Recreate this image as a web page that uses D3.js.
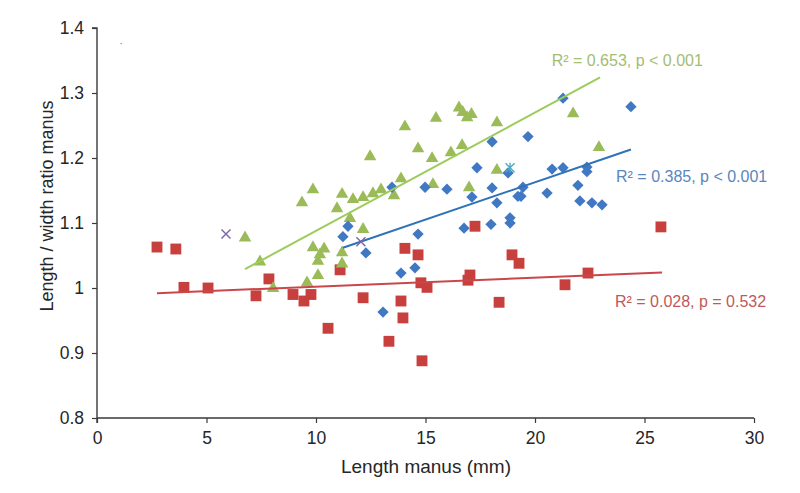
<!DOCTYPE html>
<html><head><meta charset="utf-8">
<script src="https://cdn.jsdelivr.net/npm/d3@7"></script>
<style>
html,body{margin:0;padding:0;background:#fff;}
svg{display:block;font-family:"Liberation Sans",Arial,sans-serif;}
</style></head>
<body>
<svg id="chart" width="800" height="493"></svg>
<script>
// ---- data ----
const xTicks = [0, 5, 10, 15, 20, 25, 30];
const yTicks = [0.8, 0.9, 1.0, 1.1, 1.2, 1.3, 1.4];
const yTickLabels = ["0.8", "0.9", "1", "1.1", "1.2", "1.3", "1.4"];

const redX = [2.74, 3.6, 3.97, 5.07, 7.26, 7.85, 8.95, 9.45, 9.77, 10.55, 11.1, 12.15, 13.33, 13.88, 13.97, 14.06, 14.66, 14.79, 14.84, 15.07, 16.94, 17.03, 17.26, 18.36, 18.95, 19.27, 21.37, 22.42, 25.75];
const redY = [1.063, 1.060, 1.001, 1.000, 0.988, 1.014, 0.990, 0.980, 0.990, 0.938, 1.028, 0.985, 0.918, 0.980, 0.954, 1.061, 1.051, 1.008, 0.888, 1.001, 1.012, 1.020, 1.095, 0.978, 1.051, 1.038, 1.005, 1.023, 1.094];

const greenX = [6.76, 7.44, 8.04, 9.36, 9.86, 9.59, 9.86, 10.37, 10.18, 10.09, 10.09, 10.96, 11.19, 11.69, 12.15, 12.6, 12.97, 13.56, 13.88, 12.47, 14.06, 14.66, 15.3, 15.34, 15.48, 16.16, 16.67, 16.53, 16.7, 16.9, 17.1, 16.99, 18.26, 18.26, 11.55, 12.15, 11.19, 11.19, 21.74, 22.92];
const greenY = [1.078, 1.041, 1.000, 1.132, 1.152, 1.009, 1.063, 1.061, 1.052, 1.042, 1.020, 1.123, 1.145, 1.137, 1.140, 1.146, 1.152, 1.143, 1.169, 1.203, 1.249, 1.215, 1.200, 1.160, 1.262, 1.209, 1.220, 1.278, 1.271, 1.263, 1.268, 1.155, 1.255, 1.182, 1.108, 1.091, 1.055, 1.038, 1.269, 1.217];

const blueX = [13.47, 14.98, 15.98, 18.04, 17.35, 18.04, 17.12, 18.26, 18.86, 18.86, 17.99, 16.76, 11.46, 11.23, 12.28, 14.66, 14.52, 18.77, 19.22, 21.28, 24.38, 19.68, 20.78, 21.28, 22.37, 22.37, 21.96, 20.55, 19.45, 19.36, 22.05, 22.6, 23.06, 13.88, 13.06];
const blueY = [1.155, 1.155, 1.152, 1.225, 1.185, 1.154, 1.140, 1.131, 1.108, 1.100, 1.098, 1.092, 1.095, 1.079, 1.054, 1.083, 1.031, 1.177, 1.141, 1.292, 1.279, 1.233, 1.183, 1.185, 1.186, 1.179, 1.158, 1.146, 1.155, 1.141, 1.134, 1.131, 1.128, 1.023, 0.963];

const purpleX = [5.89, 12.05];
const purpleY = [1.083, 1.071];
const cyanX = [18.86];
const cyanY = [1.185];
const speckX = [1.1];
const speckY = [1.376];

// trend lines: [start, end]
const trendGreenX = [6.76, 22.97], trendGreenY = [1.029, 1.324];
const trendBlueX  = [11.23, 24.38], trendBlueY  = [1.062, 1.213];
const trendRedX   = [2.74, 25.8],  trendRedY   = [0.992, 1.024];

const labelGreen = "R² = 0.653, p < 0.001";
const labelBlue  = "R² = 0.385, p < 0.001";
const labelRed   = "R² = 0.028, p = 0.532";
const labelPosGreen = [20.76, 1.342];
const labelPosBlue  = [23.7, 1.1635];
const labelPosRed   = [23.65, 0.971];

// ---- styles ----
const C = {red:"#c8403e", green:"#9bbb59", blue:"#4178c4", purple:"#7866a8", cyan:"#4bacc6",
           redLine:"#c9474a", greenLine:"#9ccc5c", blueLine:"#2f72b8",
           redText:"#c0595a", greenText:"#a3bd72", blueText:"#5a86be", axis:"#3a3a3a", text:"#262626"};

const svg = d3.select("#chart");
const x = d3.scaleLinear().domain([0, 30]).range([97, 754]);
const y = d3.scaleLinear().domain([0.8, 1.4]).range([418, 28]);

// axes
const xAxis = d3.axisBottom(x).tickValues(xTicks).tickSize(5).tickPadding(6).tickFormat(d3.format("d"));
const yAxis = d3.axisLeft(y).tickValues(yTicks).tickSize(5).tickPadding(8).tickFormat((d,i)=>yTickLabels[i]);

const gx = svg.append("g").attr("transform", `translate(0,${y(0.8)})`).call(xAxis);
const gy = svg.append("g").attr("transform", `translate(${x(0)},0)`).call(yAxis);
[gx, gy].forEach(g => {
  g.select(".domain").attr("stroke", C.axis).attr("stroke-width", 1.4);
  g.selectAll(".tick line").attr("stroke", C.axis).attr("stroke-width", 1.2);
  g.selectAll(".tick text").attr("fill", C.text).style("font-size", "17.5px").style("font-family", "Liberation Sans, Arial, sans-serif");
});
gx.select(".domain").attr("d", `M${x(0)},0V5M${x(0)},0H${x(30)}`);
gy.select(".domain").attr("d", `M-5,${y(1.4)}H0V${y(0.8)}`);
gx.selectAll(".tick text").attr("dy", "0.85em");

// axis titles
svg.append("text").attr("x", 426).attr("y", 473).attr("text-anchor", "middle")
  .style("font-size", "19px").attr("fill", C.text).text("Length manus (mm)");
svg.append("text").attr("transform", "translate(53,206) rotate(-90)").attr("text-anchor", "middle")
  .style("font-size", "18px").attr("fill", C.text).text("Length / width ratio manus");

// trend lines
function trend(xs, ys, col) {
  svg.append("line").attr("x1", x(xs[0])).attr("y1", y(ys[0])).attr("x2", x(xs[1])).attr("y2", y(ys[1]))
    .attr("stroke", col).attr("stroke-width", 2);
}

// markers
function pts(xs, ys) { return xs.map((v, i) => [v, ys[i]]); }
const sq = d3.symbol().type(d3.symbolSquare);

svg.append("g").selectAll("path").data(pts(redX, redY)).join("path")
  .attr("d", sq.size(118)()).attr("fill", C.red)
  .attr("transform", d => `translate(${x(d[0])},${y(d[1])})`);

svg.append("g").selectAll("path").data(pts(greenX, greenY)).join("path")
  .attr("d", d3.symbol().type(d3.symbolTriangle).size(68)()).attr("fill", C.green)
  .attr("transform", d => `translate(${x(d[0])},${y(d[1]) + 0.5})`);

svg.append("g").selectAll("path").data(pts(blueX, blueY)).join("path")
  .attr("d", d3.symbol().type(d3.symbolSquare).size(64)()).attr("fill", C.blue)
  .attr("transform", d => `translate(${x(d[0])},${y(d[1])}) rotate(45)`);

trend(trendRedX, trendRedY, C.redLine);
trend(trendGreenX, trendGreenY, C.greenLine);
trend(trendBlueX, trendBlueY, C.blueLine);

svg.append("g").selectAll("path").data(pts(purpleX, purpleY)).join("path")
  .attr("d", "M-4.5,-4.5L4.5,4.5M-4.5,4.5L4.5,-4.5").attr("stroke", C.purple).attr("stroke-width", 1.4).attr("fill", "none")
  .attr("transform", d => `translate(${x(d[0])},${y(d[1])})`);

svg.append("g").selectAll("path").data(pts(cyanX, cyanY)).join("path")
  .attr("d", "M-4.5,-4.5L4.5,4.5M-4.5,4.5L4.5,-4.5M0,-5V5").attr("stroke", C.cyan).attr("stroke-width", 1.4).attr("fill", "none")
  .attr("transform", d => `translate(${x(d[0])},${y(d[1])})`);

svg.append("g").selectAll("circle").data(pts(speckX, speckY)).join("circle")
  .attr("cx", d => x(d[0])).attr("cy", d => y(d[1])).attr("r", 0.8).attr("fill", "#999");

// R² labels
function lab(t, p, col) {
  svg.append("text").attr("x", x(p[0])).attr("y", y(p[1])).attr("fill", col)
    .style("font-size", "16px").text(t);
}
lab(labelGreen, labelPosGreen, C.greenText);
lab(labelBlue, labelPosBlue, C.blueText);
lab(labelRed, labelPosRed, C.redText);
</script>
</body></html>
